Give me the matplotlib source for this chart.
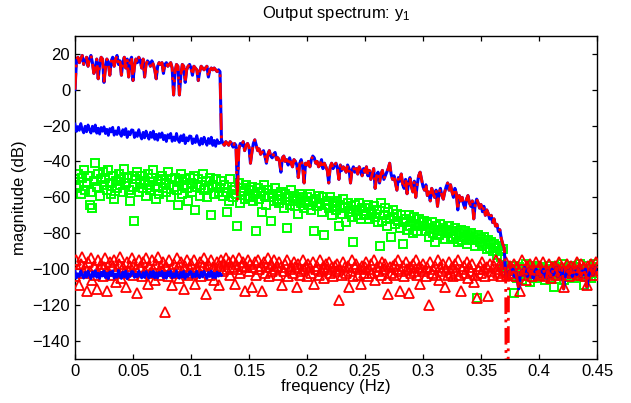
import numpy as np
import matplotlib
matplotlib.use("Agg")
import matplotlib.pyplot as plt

plt.rcParams['font.family'] = ['Liberation Sans', 'DejaVu Sans']
plt.rcParams['mathtext.fontset'] = 'custom'
plt.rcParams['mathtext.rm'] = 'Liberation Sans'
plt.rcParams['mathtext.it'] = 'Liberation Sans'

# frequency resolution of all series (Hz); every series starts at 0 Hz
freq_step = 0.00125

# measured output spectrum (dB)
output_db = [
    0, 16, 18, 15, 17, 19, 14, 16, 18, 13, 17, 19, 15, 9, 12, 17, 6, 14, 18, 17,
    4, 12, 17, 15, 8, 16, 18, 13, 17, 19, 14, 16, 8, 15, 18, 12, 17, 7, 16, 18,
    5, 13, 17, 15, 18, 16, 12, 17, 7, 14, 16, 15, 13, 16, 14, 11, 6, 13, 15, 14,
    15, 9, 14, 15, 13, 14, 15, 12, -3, 10, 14, 13, -3, 8, 14, 13, 4, 11, 13, 14,
    12, 8, 13, 12, 11, 5, 10, 13, 12, 11, 12, 13, 7, 11, 12, 11, 12, 11, 10, 11,
    10, -28, -30, -31, -29, -30, -31, -29, -30, -32, -30, -31, -55, -33, -30, -31, -29, -34, -31, -30,
    -32, -41, -35, -30, -28, -31, -34, -33, -36, -35, -34, -37, -41, -36, -34, -37, -38, -36, -35, -39,
    -38, -40, -46, -38, -37, -40, -39, -42, -38, -41, -43, -39, -40, -42, -49, -41, -39, -43, -52, -41,
    -42, -40, -43, -39, -37, -38, -41, -40, -43, -42, -39, -44, -41, -43, -45, -52, -43, -41, -44, -42,
    -41, -44, -50, -42, -45, -43, -44, -46, -42, -44, -52, -45, -43, -46, -44, -47, -43, -45, -48, -44,
    -46, -43, -48, -45, -50, -47, -44, -55, -48, -46, -52, -47, -45, -50, -48, -46, -44, -41, -47, -50,
    -48, -52, -56, -49, -51, -47, -53, -55, -50, -58, -52, -49, -54, -57, -51, -60, -53, -48, -46, -50,
    -54, -56, -53, -59, -57, -62, -55, -58, -60, -56, -65, -58, -55, -59, -61, -57, -54, -52, -56, -53,
    -57, -60, -55, -58, -67, -59, -62, -60, -64, -66, -61, -59, -63, -65, -62, -72, -64, -61, -63, -66,
    -64, -68, -65, -70, -67, -69, -72, -70, -74, -72, -76, -75, -79, -78, -83, -86, -88, -103, -104, -102,
    -101, -103, -100, -104, -102, -106, -111, -104, -101, -103, -99, -102, -104, -100, -103, -101, -105, -102, -100, -103,
    -101, -104, -102, -100, -103, -105, -101, -102, -104, -100, -103, -101, -99, -104, -102, -103, -100, -111, -104, -102,
    -101, -103, -100, -104, -102, -101, -103, -100, -102, -104, -101, -103, -100, -110, -104, -102, -100, -103, -101, -99, -100,
]

# model output spectrum: same as measured except at these frequencies (Hz -> dB)
model_override_freq = [0.14, 0.3725]
model_override_db = [-62, -300]

# noise level estimates over the excited band (dB)
noise_upper_db = [
    -19.2, -23.3, -20.6, -22.7, -18.9, -22.2, -24.1, -20.4, -23.5, -19.7, -22.3, -24.2, -20.4, -23.2, -19.7, -24.3, -21.5, -24.8, -21.1, -23.2,
    -20.7, -24.5, -22.1, -25.5, -21.7, -23.6, -21.0, -25.4, -23.0, -25.0, -21.0, -24.5, -26.0, -22.3, -25.1, -21.7, -26.7, -23.4, -25.2, -22.4,
    -22.6, -26.7, -24.0, -26.1, -22.3, -25.6, -27.5, -23.8, -26.9, -23.1, -25.7, -27.6, -23.8, -26.6, -23.1, -27.7, -24.9, -28.2, -24.5, -26.6,
    -24.1, -27.9, -25.5, -28.9, -25.1, -27.0, -24.4, -28.8, -26.4, -28.4, -24.4, -27.9, -29.4, -25.7, -28.5, -25.1, -30.1, -26.8, -28.6, -25.8,
    -26.0, -30.1, -27.4, -29.5, -25.6, -29.0, -30.9, -27.2, -30.3, -26.5, -29.1, -31.0, -27.2, -30.0, -26.5, -31.1, -28.3, -31.6, -27.9, -30.0,
    -29.8, -28.5,
]
noise_lower_db = [
    -101.2, -104.9, -102.5, -104.1, -100.9, -103.6, -105.0, -101.8, -104.4, -101.1, -103.4, -105.2, -101.6, -104.0, -100.8, -104.6, -102.2, -105.1, -101.7, -103.8,
    -101.0, -104.7, -102.3, -105.3, -101.5, -103.5, -100.9, -105.0, -102.7, -104.5, -100.7, -103.9, -105.2, -101.6, -104.2, -101.0, -105.4, -102.4, -104.1, -101.3,
    -101.4, -104.6, -102.8, -104.3, -101.0, -103.4, -104.9, -101.9, -104.6, -101.3, -103.1, -105.0, -101.5, -104.2, -101.1, -104.8, -102.0, -104.9, -101.8, -103.6,
    -101.2, -104.8, -102.1, -105.1, -101.4, -103.7, -101.0, -104.8, -102.5, -104.3, -100.9, -104.0, -105.1, -101.8, -104.4, -101.2, -105.2, -102.6, -104.0, -101.5,
    -101.3, -104.5, -102.6, -104.2, -101.1, -103.8, -104.8, -101.7, -104.3, -101.2, -103.3, -105.1, -101.8, -104.1, -101.0, -104.7, -102.3, -104.8, -101.6, -103.9,
    -102.2, -103.4,
]

# even nonlinear distortion (green squares), dB
even_db = [
    -50, -55, -47, -53, -58, -49, -45, -56, -52, -48, -64, -57, -66, -51, -41, -54, -47, -59, -50, -46,
    -53, -49, -56, -45, -52, -58, -48, -61, -51, -55, -47, -53, -50, -57, -44, -52, -49, -56, -62, -48,
    -54, -73, -50, -46, -57, -52, -48, -55, -51, -59, -47, -53, -56, -49, -45, -54, -61, -51, -58, -50,
    -48, -55, -52, -57, -46, -53, -60, -50, -54, -49, -56, -64, -51, -47, -58, -53, -50, -55, -62, -49,
    -52, -57, -48, -67, -54, -50, -59, -53, -47, -56, -51, -60, -55, -49, -70, -53, -58, -50, -54, -57,
    -55, -51, -59, -53, -57, -68, -62, -50, -56, -60, -54, -58, -76, -52, -63, -57, -55, -61, -53, -59,
    -56, -60, -54, -62, -58, -79, -55, -61, -57, -68, -53, -59, -64, -56, -60, -73, -58, -62, -55, -61,
    -59, -63, -57, -61, -66, -58, -77, -60, -64, -56, -62, -59, -65, -61, -69, -58, -63, -60, -66, -62,
    -60, -64, -58, -67, -62, -79, -61, -65, -59, -63, -68, -60, -81, -64, -62, -66, -60, -70, -63, -65,
    -67, -62, -76, -64, -69, -61, -66, -74, -63, -68, -65, -71, -85, -64, -67, -70, -63, -72, -66, -69,
    -66, -70, -64, -72, -68, -69, -65, -71, -67, -74, -87, -63, -73, -70, -66, -76, -68, -72, -82, -67,
    -71, -75, -69, -73, -77, -70, -86, -74, -72, -78, -70, -76, -73, -80, -71, -75, -79, -72, -76, -74,
    -76, -73, -79, -75, -82, -77, -74, -80, -85, -76, -78, -81, -75, -79, -77, -83, -78, -80, -76, -82,
    -79, -83, -77, -81, -85, -80, -78, -84, -82, -79, -86, -81, -83, -80, -84, -82, -87, -116, -81, -85,
    -83, -87, -82, -86, -89, -84, -88, -85, -90, -86, -88, -92, -87, -90, -93, -89, -98, -101, -99, -103,
    -100, -104, -98, -113, -101, -105, -99, -102, -106, -100, -103, -97, -104, -101, -107, -99, -102, -105, -98, -103,
    -101, -104, -99, -102, -106, -100, -103, -98, -105, -101, -110, -102, -99, -104, -100, -103, -97, -106, -101, -102,
    -100, -104, -98, -102, -105, -99, -103, -101, -97, -104, -100, -109, -102, -98, -103, -100, -105, -99, -97, -102, -100,
]

# odd nonlinear distortion (red triangles), dB
odd_db = [
    -104, -95, -100, -109, -97, -93, -102, -99, -112, -96, -101, -94, -106, -98, -103, -111, -95, -100, -97, -104,
    -99, -94, -112, -101, -96, -103, -98, -95, -107, -100, -97, -93, -105, -99, -102, -110, -96, -101, -98, -94,
    -103, -97, -100, -113, -95, -99, -104, -96, -101, -94, -108, -98, -102, -95, -100, -106, -97, -93, -103, -99,
    -101, -96, -124, -98, -104, -95, -100, -109, -97, -102, -94, -99, -105, -96, -101, -111, -98, -95, -103, -100,
    -97, -102, -95, -108, -99, -101, -96, -104, -98, -94, -114, -100, -97, -103, -95, -99, -106, -101, -96, -109,
    -98, -95, -101, -97, -94, -100, -96, -103, -99, -95, -108, -97, -100, -94, -102, -98, -96, -112, -99, -95,
    -101, -97, -110, -99, -96, -103, -95, -100, -98, -112, -96, -102, -99, -94, -104, -97, -101, -95, -100, -98,
    -103, -96, -99, -109, -101, -97, -95, -104, -100, -98, -102, -96, -99, -110, -97, -103, -101, -95, -100, -98,
    -104, -97, -99, -102, -96, -108, -100, -98, -103, -95, -101, -99, -105, -97, -100, -96, -102, -99, -104, -98,
    -101, -97, -117, -100, -103, -96, -99, -102, -98, -110, -101, -95, -104, -99, -97, -103, -100, -108, -98, -102,
    -99, -96, -104, -100, -97, -102, -95, -106, -99, -101, -98, -103, -96, -100, -97, -105, -114, -99, -102, -98,
    -103, -97, -100, -95, -112, -101, -98, -104, -96, -100, -113, -99, -102, -97, -101, -95, -103, -99, -108, -100,
    -97, -101, -104, -99, -120, -96, -102, -100, -98, -103, -95, -106, -99, -101, -97, -110, -100, -103, -96, -102,
    -99, -104, -97, -101, -95, -103, -112, -100, -98, -102, -96, -105, -99, -101, -97, -107, -103, -116, -100, -98,
    -102, -96, -100, -104, -99, -115, -97, -101, -103, -98, -95, -100, -102, -97, -104, -99, -101, -96, -103, -100,
    -98, -102, -100, -97, -104, -99, -101, -112, -95, -103, -100, -106, -98, -101, -97, -104, -99, -102, -96, -100,
    -103, -98, -101, -96, -104, -100, -102, -97, -105, -99, -101, -98, -103, -100, -96, -102, -99, -110, -101, -97,
    -100, -104, -98, -102, -99, -101, -96, -103, -100, -97, -102, -99, -104, -109, -98, -101, -97, -100, -103, -96, -99,
]

x_ticks = [0, 0.05, 0.1, 0.15, 0.2, 0.25, 0.3, 0.35, 0.4, 0.45]
x_tick_labels = ['0', '0.05', '0.1', '0.15', '0.2', '0.25', '0.3', '0.35', '0.4', '0.45']
y_ticks = [-140, -120, -100, -80, -60, -40, -20, 0, 20]


def freqs(values):
    return np.arange(len(values)) * freq_step


f_out = freqs(output_db)
model_db = np.array(output_db, dtype=float)
for fo, vo in zip(model_override_freq, model_override_db):
    model_db[np.argmin(np.abs(f_out - fo))] = vo

fig = plt.figure(figsize=(6.31, 4.03), dpi=100)
ax = fig.add_axes([75 / 631, 1 - 359 / 403, 522 / 631, (359 - 35.7) / 403])

ax.plot(freqs(even_db), even_db, linestyle='none', marker='s', markersize=6,
        markerfacecolor='none', markeredgecolor=(0, 1, 0), markeredgewidth=1.4, zorder=2)
ax.plot(freqs(odd_db), odd_db, linestyle='none', marker='^', markersize=6.5,
        markerfacecolor='none', markeredgecolor=(1, 0, 0), markeredgewidth=1.3, zorder=3)
ax.plot(freqs(noise_upper_db), noise_upper_db, color=(0, 0, 1), lw=2.0, zorder=4)
ax.plot(freqs(noise_lower_db), noise_lower_db, color=(0, 0, 1), lw=2.0, zorder=4)
ax.plot(f_out, output_db, color=(0, 0, 1), lw=2.2, zorder=5)
ax.plot(f_out, model_db, color=(1, 0, 0), lw=2.0, linestyle=(0, (6, 2, 1, 2)), zorder=6)

ax.set_xlim(0, 0.45)
ax.set_ylim(-150, 30)
ax.set_xticks(x_ticks)
ax.set_xticklabels(x_tick_labels)
ax.set_yticks(y_ticks)
ax.tick_params(direction='in', length=3.8, width=0.9, top=True, right=True,
               labelsize=12, pad=3.5)
for s in ax.spines.values():
    s.set_linewidth(1.0)

ax.set_xlabel('frequency (Hz)', fontsize=12, labelpad=0)
ax.set_ylabel('magnitude (dB)', fontsize=12, labelpad=4)
ax.set_title(r'Output spectrum: $\mathregular{y_1}$', fontsize=12, pad=13)

fig.savefig('out.png', dpi=100)
